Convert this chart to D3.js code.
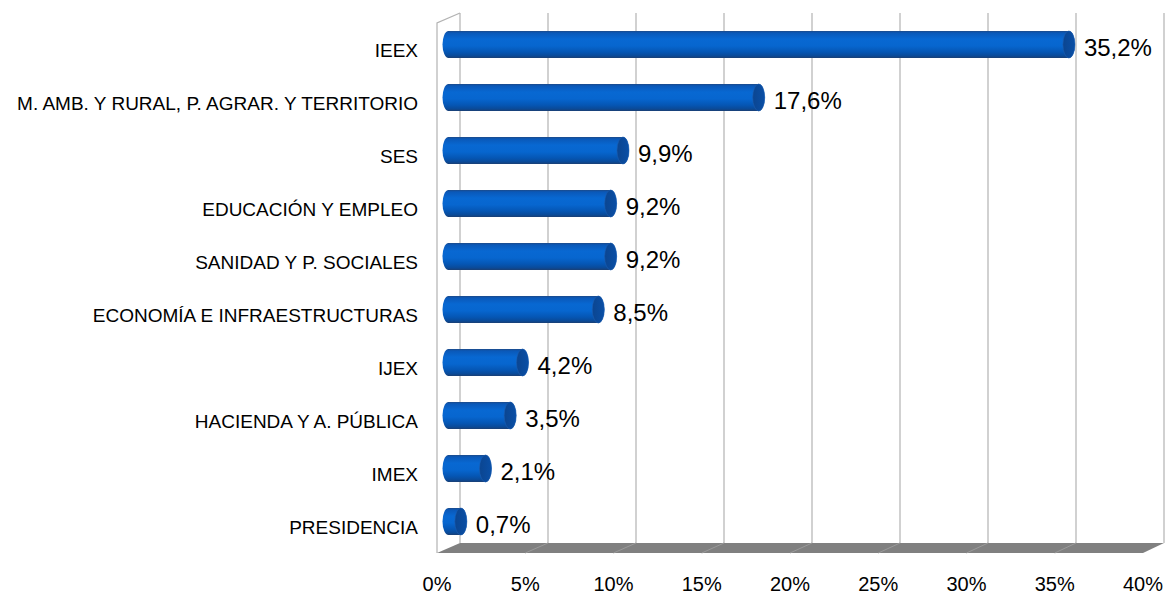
<!DOCTYPE html>
<html lang="es">
<head>
    <meta charset="UTF-8">
    <title>Distribución por consejería</title>
    <script src="https://d3js.org/d3.v7.min.js"></script>
    <style>
        body {
            margin: 0;
            background-color: #ffffff;
            font-family: "Liberation Sans", Arial, sans-serif;
        }
        .cat-label { font-size: 19px; fill: #000; }
        .val-label { font-size: 24px; fill: #000; }
        .tick-label { font-size: 20px; fill: #000; }
    </style>
</head>
<body>
    <div id="chart"></div>

    <script>
        // datos
        const categorias = [
            "IEEX",
            "M. AMB. Y RURAL, P. AGRAR. Y TERRITORIO",
            "SES",
            "EDUCACIÓN Y EMPLEO",
            "SANIDAD Y P. SOCIALES",
            "ECONOMÍA E INFRAESTRUCTURAS",
            "IJEX",
            "HACIENDA Y A. PÚBLICA",
            "IMEX",
            "PRESIDENCIA"
        ];
        const valores = [35.2, 17.6, 9.9, 9.2, 9.2, 8.5, 4.2, 3.5, 2.1, 0.7];
        const ticks = [0, 5, 10, 15, 20, 25, 30, 35, 40];

        const W = 1166, H = 596;

        // caja 3D: pared frontal (izq) y pared del fondo
        const frontTop = 23, frontBottom = 553;
        const backTop = 13, backBottom = 543;

        const xFront = d3.scaleLinear().domain([0, 40]).range([437, 1143]);
        const xBack = d3.scaleLinear().domain([0, 40]).range([460, 1164]);
        // las barras van a media profundidad
        const xMid = d3.scaleLinear().domain([0, 40]).range([448.5, 1153.5]);

        const y = d3.scaleBand().domain(categorias).range([frontTop, frontBottom]);
        const midShift = (backTop - frontTop) / 2;

        const svg = d3.select("#chart").append("svg")
            .attr("width", W)
            .attr("height", H);

        svg.append("rect").attr("width", W).attr("height", H).attr("fill", "#fff");

        const defs = svg.append("defs");
        const grad = defs.append("linearGradient")
            .attr("id", "cyl")
            .attr("x1", 0).attr("y1", 0).attr("x2", 0).attr("y2", 1);
        [["0%", "#1d4a88"], ["7%", "#0a58b8"], ["30%", "#0868d2"], ["55%", "#0766cf"],
         ["78%", "#0556b4"], ["92%", "#0a4a98"], ["100%", "#1b3f73"]]
            .forEach(s => grad.append("stop").attr("offset", s[0]).attr("stop-color", s[1]));

        const capGrad = defs.append("linearGradient")
            .attr("id", "cap")
            .attr("x1", 0).attr("y1", 0).attr("x2", 1).attr("y2", 0);
        capGrad.append("stop").attr("offset", "0%").attr("stop-color", "#0b4590");
        capGrad.append("stop").attr("offset", "100%").attr("stop-color", "#0a4fa6");

        // líneas de la pared del fondo
        svg.append("g")
            .selectAll("line")
            .data(ticks)
            .join("line")
            .attr("x1", d => xBack(d)).attr("x2", d => xBack(d))
            .attr("y1", backTop).attr("y2", backBottom)
            .attr("stroke", "#b3b3b3")
            .attr("stroke-width", 1.2);

        // pared lateral izquierda
        svg.append("path")
            .attr("d", `M${xFront(0)},${frontBottom} L${xFront(0)},${frontTop} L${xBack(0)},${backTop}`)
            .attr("fill", "none")
            .attr("stroke", "#b3b3b3")
            .attr("stroke-width", 1.2);

        // suelo
        svg.append("path")
            .attr("d", `M${xFront(0)},${frontBottom} L${xBack(0)},${backBottom} L${xBack(40)},${backBottom} L${xFront(40)},${frontBottom} Z`)
            .attr("fill", "#808080");

        svg.append("g")
            .selectAll("line")
            .data(ticks.slice(1, -1))
            .join("line")
            .attr("x1", d => xFront(d)).attr("y1", frontBottom)
            .attr("x2", d => xBack(d)).attr("y2", backBottom)
            .attr("stroke", "#9a9a9a")
            .attr("stroke-width", 1);

        // cilindros
        const rx = 6;
        const ry = y.bandwidth() * 0.255;

        const bars = svg.append("g")
            .selectAll("g")
            .data(categorias.map((c, i) => ({ cat: c, v: valores[i] })))
            .join("g");

        bars.append("path")
            .attr("d", d => {
                const cy = y(d.cat) + y.bandwidth() / 2 + midShift;
                const x0 = xMid(0), x1 = xMid(d.v);
                const t = cy - ry, b = cy + ry;
                return `M${x0},${t} L${x1},${t} A${rx},${ry} 0 0 1 ${x1},${b} L${x0},${b} A${rx},${ry} 0 0 1 ${x0},${t} Z`;
            })
            .attr("fill", "url(#cyl)");

        bars.append("ellipse")
            .attr("cx", d => xMid(d.v))
            .attr("cy", d => y(d.cat) + y.bandwidth() / 2 + midShift)
            .attr("rx", rx)
            .attr("ry", ry)
            .attr("fill", "url(#cap)")
            .attr("stroke", "#1c5cae")
            .attr("stroke-width", 0.6);

        // etiquetas de valor
        bars.append("text")
            .attr("class", "val-label")
            .attr("x", d => xMid(d.v) + rx + 9)
            .attr("y", d => y(d.cat) + y.bandwidth() / 2 + midShift + 3 + 8.5)
            .text(d => d3.format(".1f")(d.v).replace(".", ",") + "%");

        // etiquetas de categoría
        svg.append("g")
            .selectAll("text")
            .data(categorias)
            .join("text")
            .attr("class", "cat-label")
            .attr("text-anchor", "end")
            .attr("x", 418)
            .attr("y", d => y(d) + y.bandwidth() / 2 + 1 + 6.8)
            .text(d => d);

        // eje x
        svg.append("g")
            .selectAll("text")
            .data(ticks)
            .join("text")
            .attr("class", "tick-label")
            .attr("text-anchor", "middle")
            .attr("x", d => xFront(d))
            .attr("y", 591)
            .text(d => d + "%");
    </script>
</body>
</html>
